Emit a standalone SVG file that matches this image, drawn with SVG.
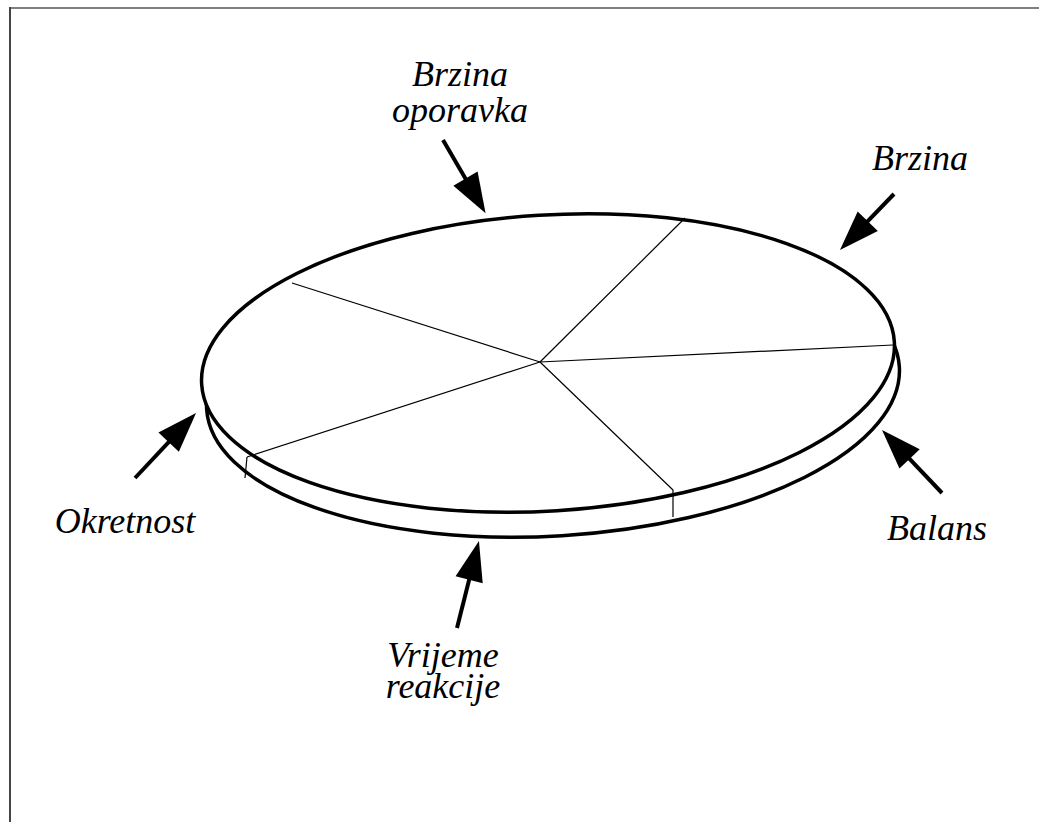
<svg xmlns="http://www.w3.org/2000/svg" width="1039" height="822" viewBox="0 0 1039 822">
<style>
.lbl{font-family:'Liberation Serif','Times New Roman',serif;font-style:italic;font-size:36px;fill:#000;text-anchor:middle}
.rim{fill:#fff;stroke:#000;stroke-width:3.5}
.sec{stroke:#000;stroke-width:1.2;fill:none}
.arr{stroke:#000;stroke-width:4;fill:none;marker-end:url(#head)}
</style>
<defs>
<marker id="head" markerUnits="userSpaceOnUse" markerWidth="40" markerHeight="28" refX="10" refY="14" orient="auto" overflow="visible">
<path d="M0,0 L40,14 L0,28 Z" fill="#000"/>
</marker>
</defs>
<rect width="1039" height="822" fill="#fff"/>
<g id="frame">
<line x1="9" y1="8" x2="1039" y2="8" stroke="#808080" stroke-width="2"/>
<line x1="10" y1="7" x2="10" y2="822" stroke="#444" stroke-width="2"/>
</g>
<g id="disc">
<ellipse class="rim" cx="553" cy="388" rx="347" ry="148" transform="rotate(-3.5 553 388)"/>
<ellipse class="rim" cx="548" cy="363" rx="347" ry="148" transform="rotate(-3.5 548 363)"/>
<g class="sec">
<line x1="540" y1="362" x2="292" y2="283"/>
<line x1="540" y1="362" x2="685" y2="218"/>
<line x1="540" y1="362" x2="893" y2="345"/>
<line x1="540" y1="362" x2="673" y2="490"/>
<line x1="540" y1="362" x2="247" y2="457"/>
<line x1="673" y1="490" x2="673" y2="517"/>
<line x1="247" y1="457" x2="245" y2="478"/>
</g>
</g>
<g id="connectors">
<line class="arr" x1="443" y1="140" x2="470.5" y2="187.3"/>
<line class="arr" x1="894" y1="194" x2="860.8" y2="228.4"/>
<line class="arr" x1="135" y1="478" x2="175.5" y2="434.9"/>
<line class="arr" x1="942" y1="493" x2="902.7" y2="451.7"/>
<line class="arr" x1="457" y1="628" x2="471.6" y2="570.1"/>
</g>
<g id="n-brzina-oporavka"><text class="lbl" x="460" y="86">Brzina</text><text class="lbl" x="460" y="122">oporavka</text></g>
<g id="n-brzina"><text class="lbl" x="920" y="170">Brzina</text></g>
<g id="n-okretnost"><text class="lbl" x="125" y="533">Okretnost</text></g>
<g id="n-balans"><text class="lbl" x="937" y="540">Balans</text></g>
<g id="n-vrijeme-reakcije"><text class="lbl" x="443" y="667">Vrijeme</text><text class="lbl" x="443" y="698">reakcije</text></g>
</svg>
